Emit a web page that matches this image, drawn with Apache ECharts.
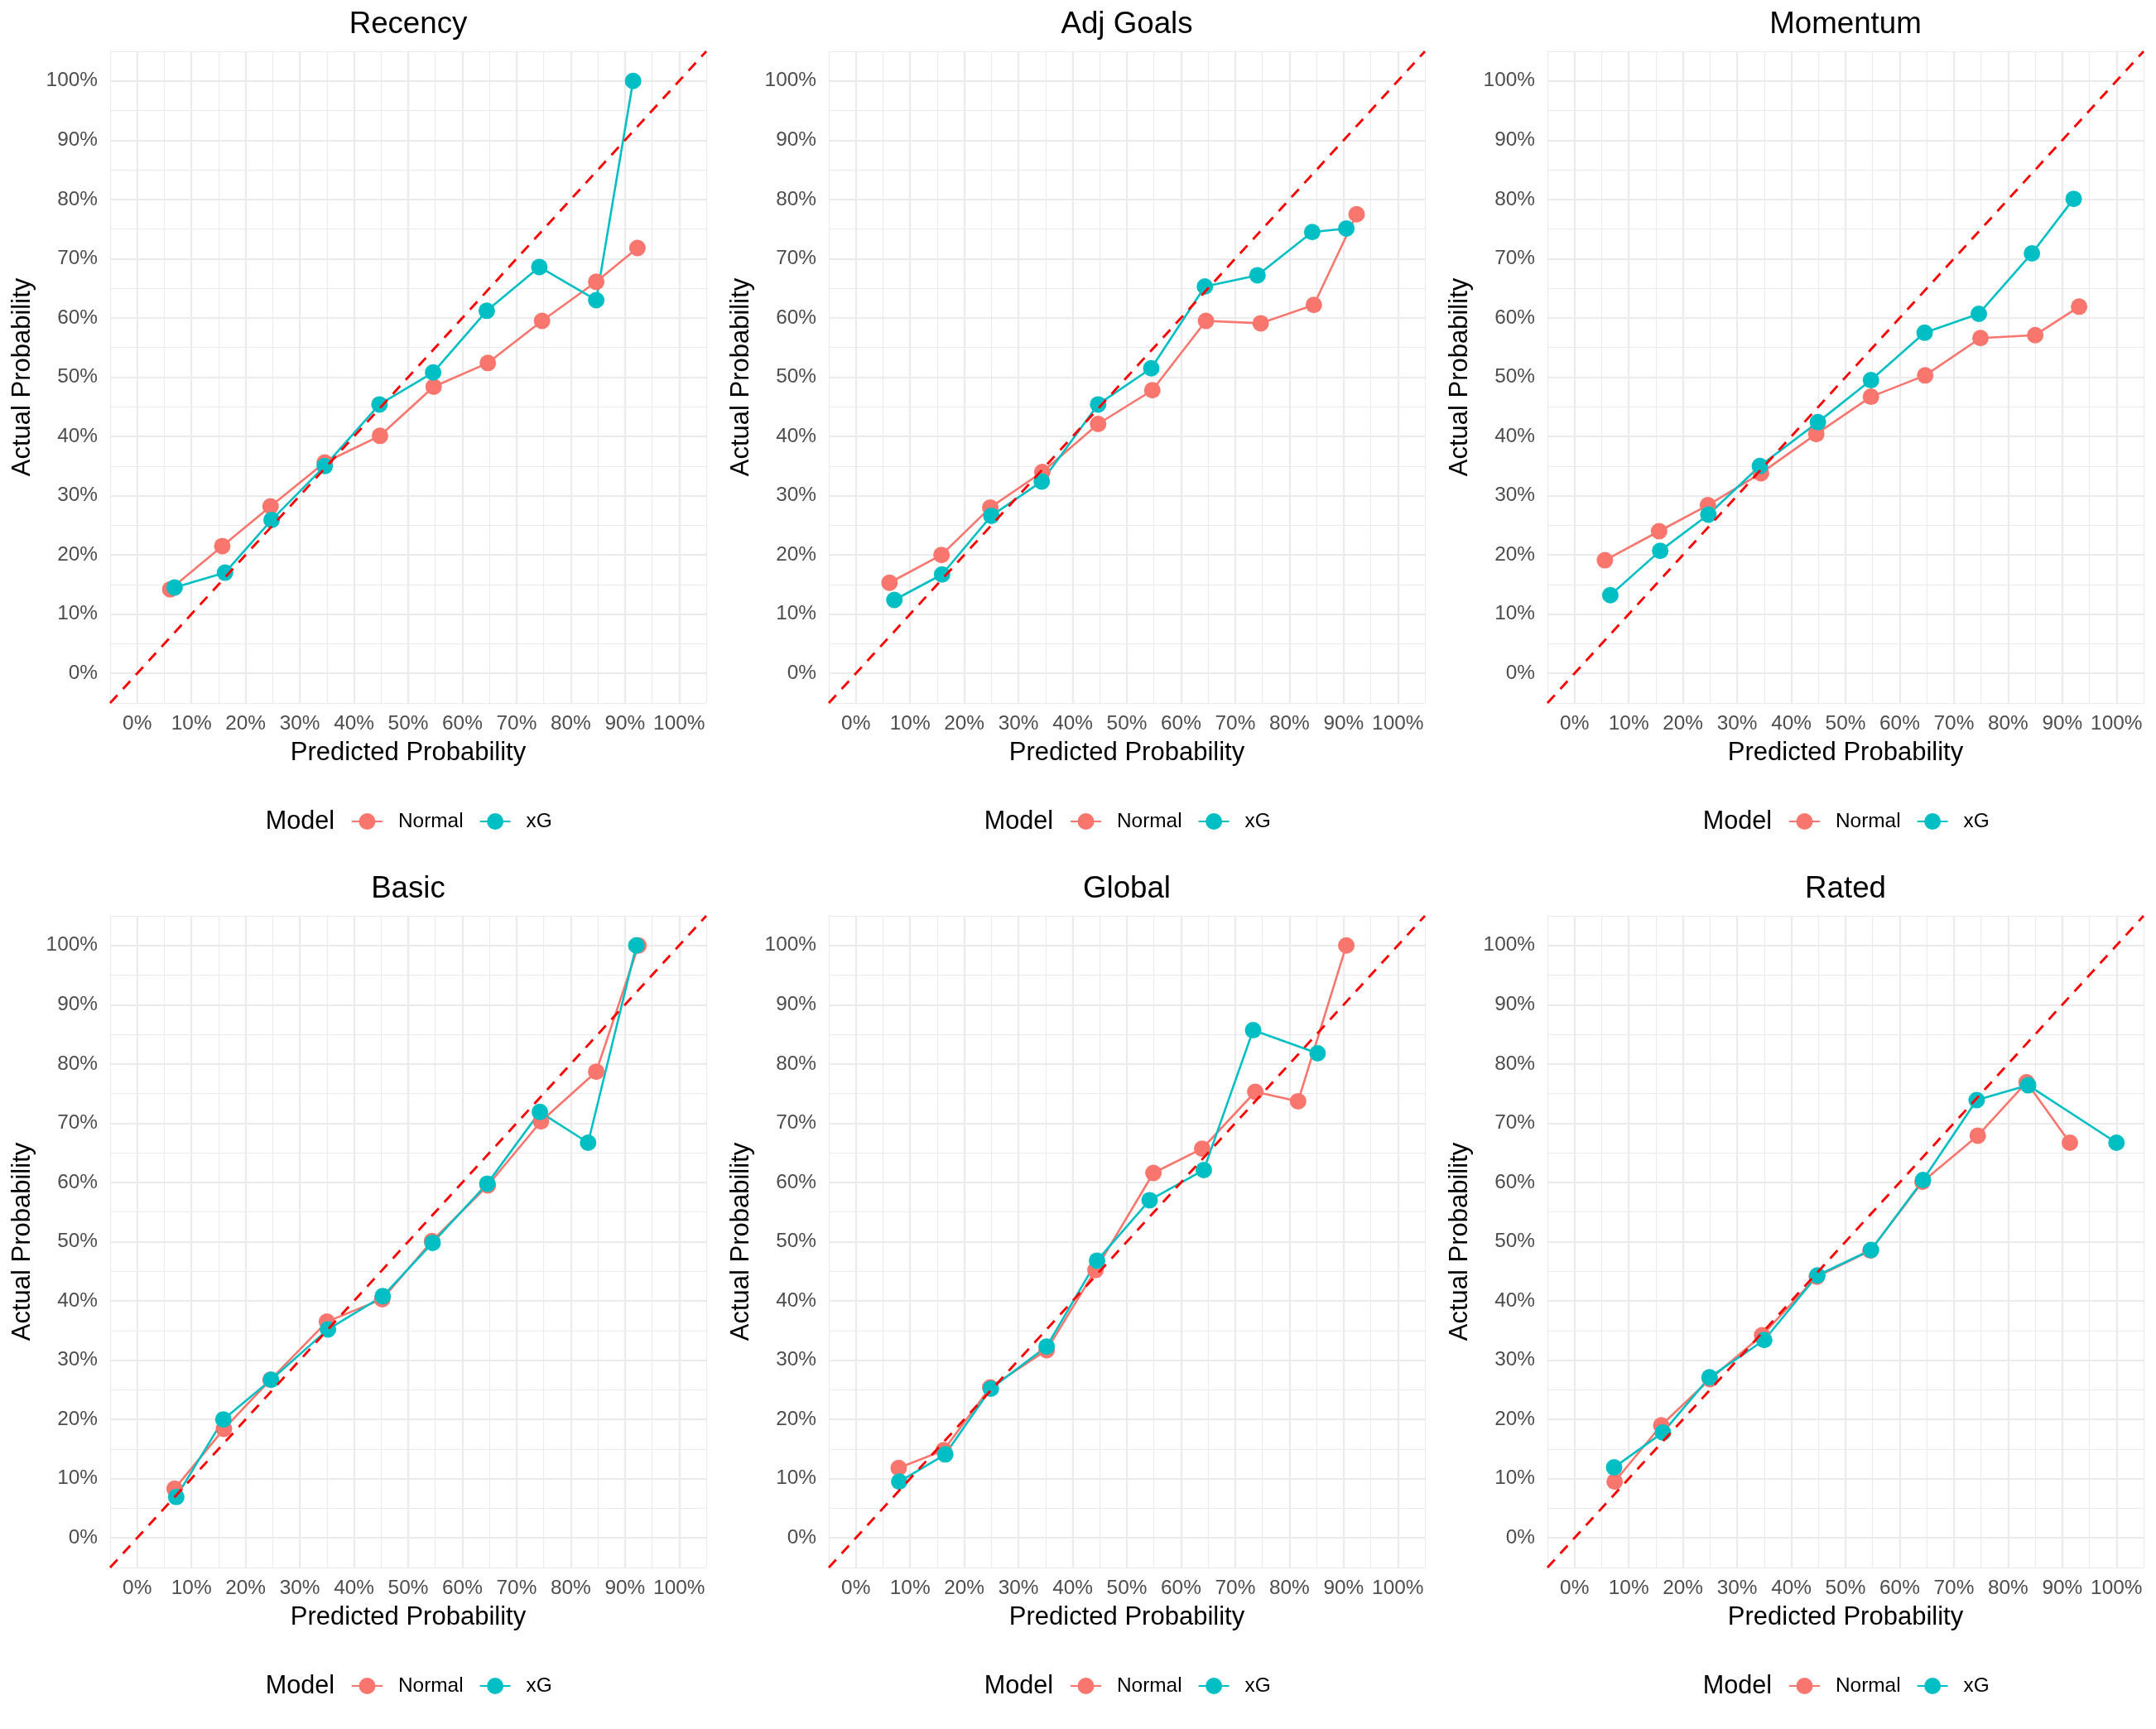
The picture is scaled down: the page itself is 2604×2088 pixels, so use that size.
<!DOCTYPE html>
<html><head><meta charset="utf-8">
<script src="https://cdn.jsdelivr.net/npm/echarts@6/dist/echarts.min.js"></script>
<style>html,body{margin:0;padding:0;background:#fff}#c{width:2604px;height:2088px}</style>
</head><body><div id="c"></div>
<script>
// ---------------- data ----------------
const panelTitles = ['Recency', 'Adj Goals', 'Momentum', 'Basic', 'Global', 'Rated'];
const modelNames = ['Normal', 'xG'];
const tickValues = [0, 0.1, 0.2, 0.3, 0.4, 0.5, 0.6, 0.7, 0.8, 0.9, 1.0];
const axisLimits = [-0.05, 1.05];
const perfectLine = [-0.05, 1.05]; // y = x reference, spans the axis limits

const recencyNormal = [[0.061,0.142],[0.157,0.215],[0.246,0.282],[0.346,0.356],[0.448,0.401],[0.547,0.484],[0.647,0.524],[0.747,0.595],[0.847,0.661],[0.923,0.718]];
const recencyXG     = [[0.069,0.145],[0.162,0.170],[0.248,0.259],[0.346,0.350],[0.447,0.454],[0.546,0.508],[0.645,0.612],[0.742,0.686],[0.847,0.630],[0.915,1.000]];

const adjGoalsNormal = [[0.062,0.153],[0.158,0.200],[0.248,0.280],[0.344,0.340],[0.447,0.421],[0.547,0.478],[0.646,0.595],[0.747,0.591],[0.845,0.622],[0.924,0.775]];
const adjGoalsXG     = [[0.071,0.124],[0.159,0.167],[0.250,0.266],[0.343,0.324],[0.447,0.454],[0.545,0.515],[0.644,0.653],[0.741,0.672],[0.842,0.745],[0.905,0.751]];

const momentumNormal = [[0.056,0.191],[0.156,0.240],[0.246,0.284],[0.344,0.338],[0.446,0.404],[0.547,0.467],[0.647,0.503],[0.749,0.566],[0.850,0.571],[0.931,0.619]];
const momentumXG     = [[0.066,0.132],[0.158,0.207],[0.247,0.268],[0.342,0.350],[0.449,0.424],[0.547,0.495],[0.646,0.575],[0.746,0.607],[0.844,0.709],[0.921,0.801]];

const basicNormal = [[0.069,0.083],[0.160,0.184],[0.246,0.267],[0.350,0.365],[0.452,0.403],[0.544,0.501],[0.647,0.595],[0.745,0.703],[0.847,0.787],[0.925,1.000]];
const basicXG     = [[0.072,0.069],[0.159,0.200],[0.247,0.267],[0.352,0.352],[0.453,0.408],[0.545,0.498],[0.646,0.598],[0.743,0.719],[0.832,0.667],[0.921,1.000]];

const globalNormal = [[0.079,0.118],[0.162,0.148],[0.248,0.254],[0.352,0.317],[0.442,0.452],[0.549,0.616],[0.639,0.657],[0.737,0.753],[0.816,0.737],[0.905,1.000]];
const globalXG     = [[0.080,0.095],[0.165,0.141],[0.249,0.252],[0.352,0.323],[0.445,0.468],[0.542,0.570],[0.642,0.621],[0.733,0.857],[0.852,0.818]];

const ratedNormal = [[0.074,0.095],[0.160,0.190],[0.250,0.268],[0.346,0.342],[0.447,0.441],[0.546,0.485],[0.642,0.601],[0.744,0.679],[0.834,0.769],[0.914,0.667]];
const ratedXG     = [[0.073,0.119],[0.163,0.178],[0.249,0.271],[0.350,0.334],[0.448,0.443],[0.547,0.486],[0.643,0.604],[0.742,0.739],[0.837,0.764],[1.000,0.667]];

const panelSeries = [
  [recencyNormal, recencyXG],
  [adjGoalsNormal, adjGoalsXG],
  [momentumNormal, momentumXG],
  [basicNormal, basicXG],
  [globalNormal, globalXG],
  [ratedNormal, ratedXG]
];

// ---------------- styling ----------------
const FONT = 'Liberation Sans, Arial, Helvetica, sans-serif';
const COLORS = ['#F8766D', '#00BFC4'];
const GRID_COLOR = '#EBEBEB';
const PW = 868, PH = 1044;
const pct = v => Math.round(v * 100) + '%';

const grids = [], xAxes = [], yAxes = [], series = [], legends = [], graphics = [];

panelTitles.forEach((title, i) => {
  const c = i % 3, r = Math.floor(i / 3);
  const ox = c * PW, oy = r * PH;
  const gl = ox + 133, gt = oy + 62, gw = 720, gh = 787;
  grids.push({ left: gl, top: gt, width: gw, height: gh, containLabel: false });

  const base = { gridIndex: i, type: 'value', min: axisLimits[0], max: axisLimits[1], interval: 0.05 };
  // minor grid axes
  xAxes.push(Object.assign({}, base, {
    position: 'top', axisLine: { show: false }, axisTick: { show: false }, axisLabel: { show: false },
    splitLine: { show: true, lineStyle: { color: GRID_COLOR, width: 1.1 } }
  }));
  yAxes.push(Object.assign({}, base, {
    position: 'right', axisLine: { show: false }, axisTick: { show: false }, axisLabel: { show: false },
    splitLine: { show: true, lineStyle: { color: GRID_COLOR, width: 1.1 } }
  }));
  // major axes with labels
  xAxes.push(Object.assign({}, base, {
    position: 'bottom', axisLine: { show: false },
    axisTick: { show: false, customValues: tickValues },
    axisLabel: { customValues: tickValues, formatter: pct, fontSize: 24.4, color: '#4D4D4D', fontFamily: FONT, margin: 13 },
    splitLine: { show: true, lineStyle: { color: GRID_COLOR, width: 2.2 } },
    name: 'Predicted Probability', nameLocation: 'middle', nameGap: 45,
    nameTextStyle: { fontSize: 31, color: '#000', fontFamily: FONT }
  }));
  yAxes.push(Object.assign({}, base, {
    position: 'left', axisLine: { show: false },
    axisTick: { show: false, customValues: tickValues },
    axisLabel: { customValues: tickValues, formatter: pct, fontSize: 24.4, color: '#4D4D4D', fontFamily: FONT, margin: 15 },
    splitLine: { show: true, lineStyle: { color: GRID_COLOR, width: 2.2 } },
    name: 'Actual Probability', nameLocation: 'middle', nameGap: 90,
    nameTextStyle: { fontSize: 31, color: '#000', fontFamily: FONT }
  }));

  const xi = 2 * i + 1, yi = 2 * i + 1;
  // lines first (ggplot: geom_line then geom_point)
  panelSeries[i].forEach((pts, k) => {
    series.push({
      type: 'line', name: modelNames[k], xAxisIndex: xi, yAxisIndex: yi, data: pts,
      showSymbol: false, symbol: 'circle', symbolSize: 20,
      lineStyle: { color: COLORS[k], width: 2.6 }, itemStyle: { color: COLORS[k] },
      z: 2, animation: false, silent: true
    });
  });
  panelSeries[i].forEach((pts, k) => {
    series.push({
      type: 'scatter', name: modelNames[k], xAxisIndex: xi, yAxisIndex: yi, data: pts,
      symbol: 'circle', symbolSize: 20, itemStyle: { color: COLORS[k], opacity: 1 },
      z: 3 + k, animation: false, silent: true
    });
  });
  series.push({
    type: 'line', name: 'Perfect', xAxisIndex: xi, yAxisIndex: yi,
    data: [[perfectLine[0], perfectLine[0]], [perfectLine[1], perfectLine[1]]],
    showSymbol: false, symbol: 'none',
    lineStyle: { color: '#FF0000', width: 2.9, type: [13, 10] },
    z: 6, animation: false, silent: true, clip: true
  });

  legends.push({
    data: modelNames, left: ox + 424, top: oy + 980, padding: 0,
    itemWidth: 37, itemHeight: 25, itemGap: 19, selectedMode: false,
    textStyle: { fontSize: 24.4, color: '#000', fontFamily: FONT, padding: [0, 0, 0, 14] }
  });

  graphics.push({
    type: 'text', x: gl + gw / 2, y: oy + 30,
    style: { text: title, fontSize: 36.7, fontFamily: FONT, fill: '#000', textAlign: 'center', textVerticalAlign: 'middle' }
  });
  graphics.push({
    type: 'text', x: ox + 404, y: oy + 993,
    style: { text: 'Model', fontSize: 30.6, fontFamily: FONT, fill: '#000', textAlign: 'right', textVerticalAlign: 'middle' }
  });
});

const chart = echarts.init(document.getElementById('c'), null, { renderer: 'canvas' });
chart.setOption({
  backgroundColor: '#FFFFFF',
  animation: false,
  grid: grids, xAxis: xAxes, yAxis: yAxes, series: series, legend: legends, graphic: graphics
});
</script></body></html>
